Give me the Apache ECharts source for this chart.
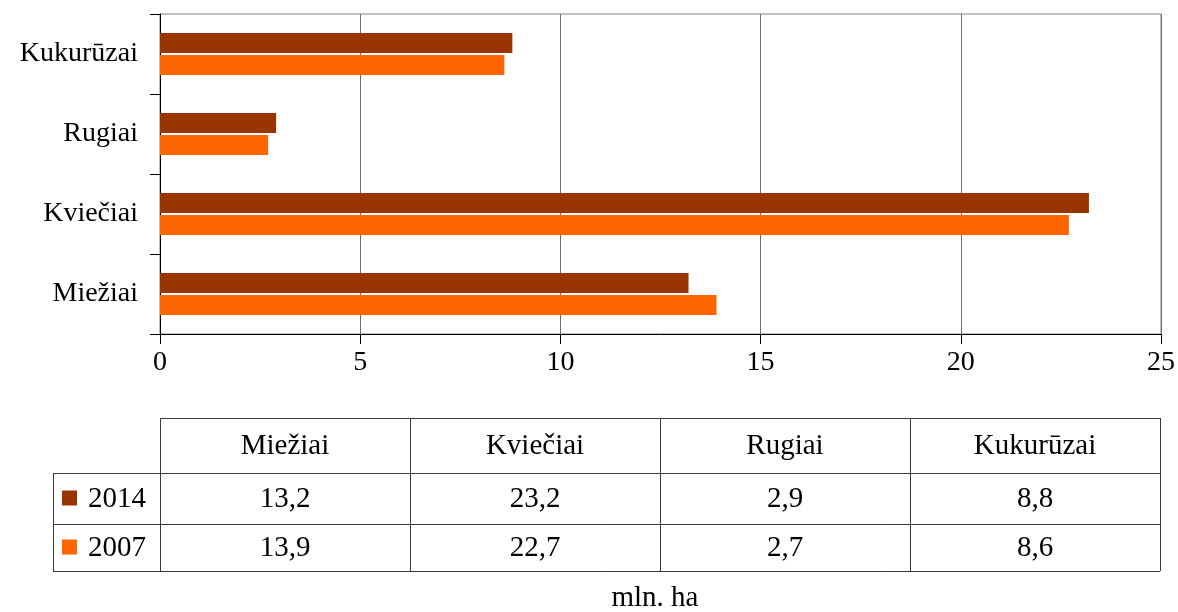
<!DOCTYPE html>
<html lang="lt" style="height: 100%">
<head>
    <meta charset="utf-8">
</head>
<body style="height: 100%; margin: 0; background: #fff">
<div id="container" style="height: 100%"></div>

<script type="text/javascript" src="https://fastly.jsdelivr.net/npm/echarts@6.0.0/dist/echarts.min.js"></script>

<script type="text/javascript">
    var dom = document.getElementById('container');
    var myChart = echarts.init(dom, null, { renderer: 'canvas' });

    // data
    const categories = ['Miežiai', 'Kviečiai', 'Rugiai', 'Kukurūzai'];
    const years = ['2014', '2007'];
    const values2014 = [13.2, 23.2, 2.9, 8.8];
    const values2007 = [13.9, 22.7, 2.7, 8.6];
    const colors = ['#993300', '#ff6600'];
    const unitLabel = 'mln. ha';

    const FONT = '"Liberation Serif", "DejaVu Serif", serif';
    const FS = 28;     // axis labels
    const TFS = 29;    // table text

    // table below the chart
    const tLeft = 160, colW = 250, legLeft = 53;
    const tRight = tLeft + colW * categories.length;
    const rowTop = [418, 473, 524, 571];
    const lineColor = '#3a3a3a';
    const graphics = [];

    function hline(x1, x2, y) {
        graphics.push({ type: 'line', shape: { x1: x1, y1: y + 0.5, x2: x2, y2: y + 0.5 }, style: { stroke: lineColor, lineWidth: 1 } });
    }
    function vline(x, y1, y2) {
        graphics.push({ type: 'line', shape: { x1: x + 0.5, y1: y1, x2: x + 0.5, y2: y2 }, style: { stroke: lineColor, lineWidth: 1 } });
    }
    function cellText(str, x, y, align) {
        graphics.push({
            type: 'text', x: x, y: y,
            style: { text: str, font: TFS + 'px ' + FONT, fill: '#000', align: align || 'center', verticalAlign: 'middle' }
        });
    }

    hline(tLeft, tRight, rowTop[0]);
    hline(legLeft, tRight, rowTop[1]);
    hline(legLeft, tRight, rowTop[2]);
    hline(legLeft, tRight, rowTop[3]);
    vline(legLeft, rowTop[1], rowTop[3]);
    for (var c = 0; c <= categories.length; c++) {
        vline(tLeft + c * colW, rowTop[0], rowTop[3]);
    }
    categories.forEach(function (name, i) {
        cellText(name, tLeft + colW * (i + 0.5), (rowTop[0] + rowTop[1]) / 2 + 1);
    });
    [values2014, values2007].forEach(function (vals, r) {
        var cy = (rowTop[r + 1] + rowTop[r + 2]) / 2 + 1;
        graphics.push({ type: 'rect', shape: { x: 62, y: cy - 9, width: 15, height: 15 }, style: { fill: colors[r] } });
        cellText(years[r], 88, cy, 'left');
        vals.forEach(function (v, i) {
            cellText(v.toFixed(1).replace('.', ','), tLeft + colW * (i + 0.5), cy);
        });
    });
    cellText(unitLabel, 655, 598);

    var option = {
        animation: false,
        textStyle: { fontFamily: FONT },
        grid: {
            left: 160, right: 17, top: 14, bottom: 278,
            show: true, borderColor: '#808080', borderWidth: 1
        },
        xAxis: {
            type: 'value',
            min: 0, max: 25, interval: 5,
            axisLine: { show: true, lineStyle: { color: '#000' } },
            axisTick: { show: true, length: 10, lineStyle: { color: '#000' } },
            axisLabel: { fontSize: FS, color: '#000', margin: 15, fontFamily: FONT },
            splitLine: { show: true, lineStyle: { color: '#6e6e6e' } }
        },
        yAxis: {
            type: 'category',
            data: categories,
            axisLine: { show: true, lineStyle: { color: '#000' } },
            axisTick: { show: true, length: 10, lineStyle: { color: '#000' } },
            axisLabel: { fontSize: FS, color: '#000', margin: 22, fontFamily: FONT, padding: [4, 0, 0, 0] }
        },
        series: [
            {
                type: 'bar', name: years[0], data: values2014,
                barWidth: 20, barGap: '10%',
                itemStyle: { color: colors[0] }
            },
            {
                type: 'bar', name: years[1], data: values2007,
                barWidth: 20, barGap: '10%',
                itemStyle: { color: colors[1] }
            }
        ],
        graphic: graphics
    };

    myChart.setOption(option);
    window.addEventListener('resize', myChart.resize);
</script>
</body>
</html>
